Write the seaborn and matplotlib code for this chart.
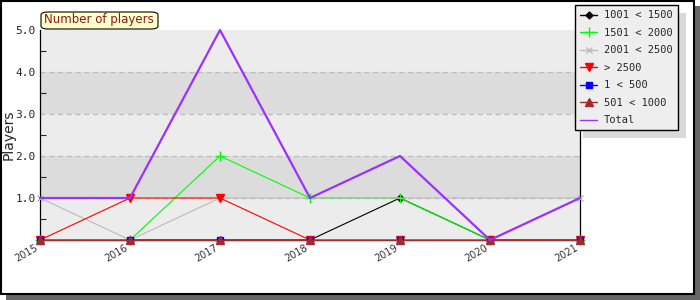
import numpy as np
import pandas as pd
import matplotlib
matplotlib.use("Agg")
import matplotlib.pyplot as plt
from matplotlib.patches import Rectangle, FancyBboxPatch
from matplotlib.lines import Line2D
import seaborn as sns

years = [2015, 2016, 2017, 2018, 2019, 2020, 2021]
s_1001_1500 = [0, 0, 0, 0, 1, 0, 0]
s_1501_2000 = [0, 0, 2, 1, 1, 0, 0]
s_2001_2500 = [1, 0, 1, np.nan, np.nan, np.nan, 1]
s_gt_2500 = [0, 1, 1, 0, 0, 0, 0]
s_1_500 = [0, 0, 0, 0, 0, 0, 0]
s_501_1000 = [0, 0, 0, 0, 0, 0, 0]
s_total = [1, 1, 5, 1, 2, 0, 1]

series_names = ["1001 < 1500", "1501 < 2000", "2001 < 2500", "> 2500",
                "1 < 500", "501 < 1000", "Total"]
series_vals = [s_1001_1500, s_1501_2000, s_2001_2500, s_gt_2500,
               s_1_500, s_501_1000, s_total]
colors = ["#000000", "#00ff00", "#bbbbbb", "#ff0000", "#0000ff", "#a52a2a", "#9b30ff"]
markers = ["D", "+", "x", "v", "s", "^", None]
msizes = [3.5, 7, 5, 6, 5, 6, 0]
lws = [0.8, 0.8, 0.8, 0.8, 0.8, 0.8, 1.6]

sns.set_style("white")
plt.rcParams['font.family'] = ['DejaVu Sans']

fig = plt.figure(figsize=(7, 3), dpi=100)
fig.patch.set_facecolor("white")

# figure shadow & border
fig.patches.append(Rectangle((6/700, 0), 694/700, 294/300, transform=fig.transFigure,
                             facecolor="#666666", edgecolor="none", zorder=-10))
fig.patches.append(Rectangle((0.5/700, 6/300), 693/700, 293.5/300, transform=fig.transFigure,
                             facecolor="white", edgecolor="black", lw=1.5, zorder=-9))

ax = fig.add_axes([40/700, 60/300, 540/700, 210/300])
ax.set_xlim(2015, 2021)
ax.set_ylim(0, 5)
for i in range(5):
    ax.axhspan(i, i + 1, color="#ececec" if i % 2 == 0 else "#dcdcdc", zorder=0, lw=0)
for y in range(1, 5):
    ax.axhline(y, color="#bbbbbb", ls=(0, (4, 3)), lw=0.9, zorder=1)

order = [2, 3, 1, 0, 6, 4, 5]
for k in order:
    df = pd.DataFrame({"year": years, "v": series_vals[k]})
    sns.lineplot(data=df, x="year", y="v", ax=ax, color=colors[k], lw=lws[k],
                 marker=markers[k] if markers[k] else None,
                 markersize=msizes[k], markeredgecolor=colors[k],
                 markeredgewidth=1.0, clip_on=False, zorder=3 + k, legend=False,
                 estimator=None)

ax.set_xticks(years)
ax.set_xticklabels([str(y) for y in years], rotation=30, ha="right",
                   fontsize=7, color="#333333", family="DejaVu Sans")
ax.set_yticks([1, 2, 3, 4, 5])
ax.set_yticklabels(["1.0", "2.0", "3.0", "4.0", "5.0"], fontsize=8,
                   family="DejaVu Sans Mono")
ax.set_yticks([0.5, 1.5, 2.5, 3.5, 4.5], minor=True)
ax.tick_params(axis="y", which="both", direction="in", length=4, left=True, width=0.8)
ax.tick_params(axis="y", which="major", length=0, pad=3)
ax.tick_params(axis="x", length=0, pad=2)
ax.set_xlabel("")
ax.set_ylabel("Players", fontsize=10)
ax.yaxis.set_label_coords(-0.046, 0.5)
ax.spines["top"].set_visible(False)
for side in ["left", "bottom", "right"]:
    ax.spines[side].set_visible(True)
    ax.spines[side].set_color("black")
    ax.spines[side].set_linewidth(0.9)

# title tab
tab = FancyBboxPatch((41/700, (300 - 29)/300), 117/700, 17/300, transform=fig.transFigure,
                     boxstyle="round,pad=0,rounding_size=0.01", facecolor="#ffffcc",
                     edgecolor="black", lw=0.8, zorder=5)
fig.patches.append(tab)
t = fig.text(99/700, (300 - 19.5)/300, "Number of players", ha="center", va="center",
             fontsize=8.5, color="#8b1a1a")
t.set_zorder(10)

# legend
handles = []
for k in range(7):
    handles.append(Line2D([0], [0], color=colors[k], lw=1.0,
                          marker=markers[k] if markers[k] else None,
                          markersize=msizes[k] if msizes[k] else 0,
                          markeredgecolor=colors[k]))
leg = fig.legend(handles, series_names, loc="upper left",
                 bbox_to_anchor=(575/700, (300 - 5)/300), frameon=True,
                 fancybox=False, prop={"family": "DejaVu Sans Mono", "size": 7.5},
                 handlelength=1.6, handletextpad=0.7, labelspacing=0.72,
                 borderpad=0.5, borderaxespad=0)
leg.get_frame().set_facecolor("#eeeeee")
leg.get_frame().set_edgecolor("black")
leg.get_frame().set_linewidth(1.0)
leg.get_frame().set_alpha(1)
leg.set_zorder(6)

fig.canvas.draw()
bb = leg.get_window_extent()
fig.patches.append(Rectangle(((bb.x0 + 8) / 700, (bb.y0 - 8) / 300),
                             bb.width / 700, bb.height / 300,
                             transform=fig.transFigure, facecolor="#d9d9d9",
                             edgecolor="none", zorder=4))

fig.savefig("out.png", dpi=100, facecolor="white")
